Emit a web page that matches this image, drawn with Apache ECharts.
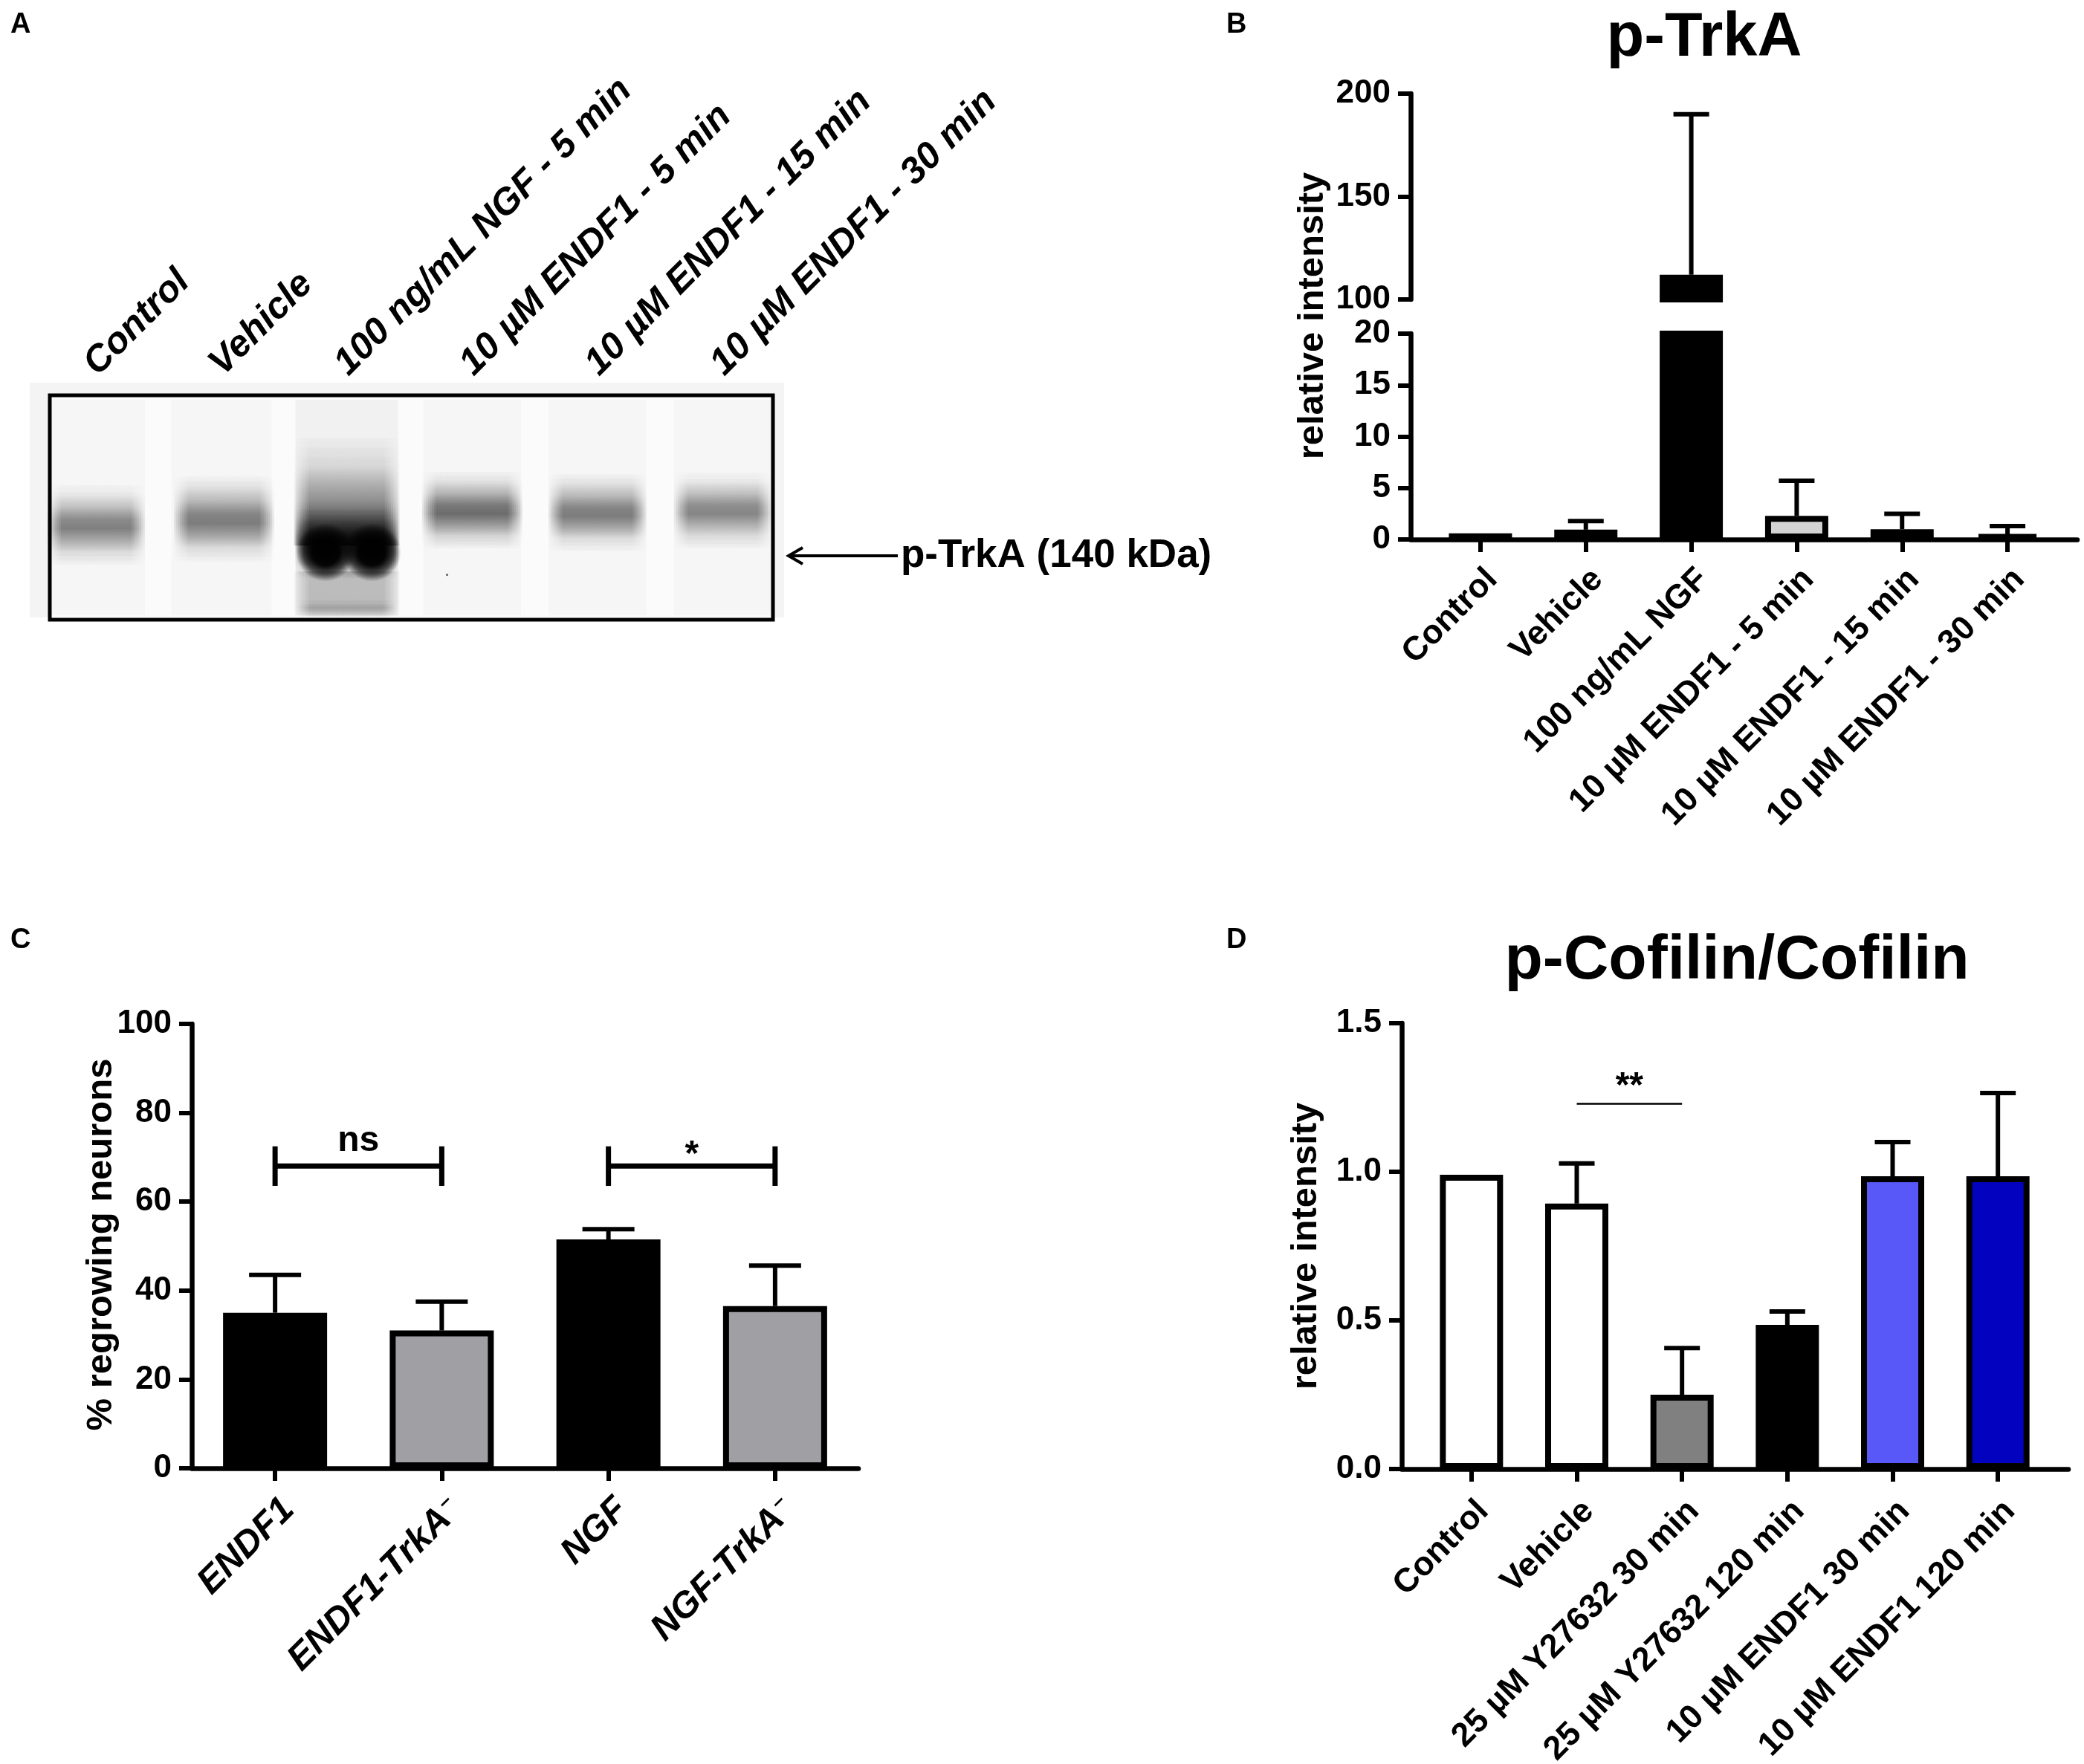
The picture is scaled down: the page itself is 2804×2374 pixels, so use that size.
<!DOCTYPE html>
<html><head><meta charset="utf-8">
<script src="https://cdn.jsdelivr.net/npm/echarts@6/dist/echarts.min.js"></script>
<style>html,body{margin:0;padding:0;background:#fff}#c{width:2804px;height:2374px}</style>
</head><body><div id="c"></div>
<script>
const FONT = '"Liberation Sans", Arial, Helvetica, sans-serif';

// ---------- Panel A : western blot ----------
const blotLanes = ['Control','Vehicle','100 ng/mL NGF - 5 min','10 µM ENDF1 - 5 min','10 µM ENDF1 - 15 min','10 µM ENDF1 - 30 min'];
// lane, x offset (lane units), y centre (0 = top, 1 = bottom), half width, half height, darkness, kind
const bandLane  = [0,1,2,3,4,5, 0,1,3,4,5, 2,2,2,2,2,2, 3];
const bandDx    = [0,0,0,0,0,0, 0,0.02,0,0,0, 0,0,-0.17,0.2,0,0, -0.2];
const bandY     = [0.5,0.5,0.5,0.5,0.5,0.5, 0.575,0.55,0.51,0.52,0.51, 0.42,0.66,0.7,0.7,0.885,0.95, 0.80];
const bandHalfW = [0.39,0.40,0.41,0.39,0.39,0.39, 0.39,0.40,0.40,0.39,0.39, 0.42,0.41,0.26,0.24,0.42,0.39, 0.012];
const bandHalfH = [0.48,0.48,0.48,0.48,0.48,0.48, 0.19,0.2,0.18,0.18,0.18, 0.25,0.16,0.13,0.13,0.10,0.05, 0.012];
const bandDark  = [0.02,0.02,0.04,0.02,0.02,0.02, 0.48,0.5,0.56,0.5,0.46, 0.8,0.82,1,1,0.22,0.15, 0.6];
const bandKind  = ['flat','flat','flat','flat','flat','flat','band','band','band','band','band','smear','band','blob','blob','haze','band','blob'];

// ---------- Panel B : p-TrkA ----------
const bCats   = ['Control','Vehicle','100 ng/mL NGF','10 µM ENDF1 - 5 min','10 µM ENDF1 - 15 min','10 µM ENDF1 - 30 min'];
const bMean   = [0.6, 0.95, 112, 2.3, 1.0, 0.5];
const bUpper  = [null, 1.78, 190, 5.7, 2.5, 1.3];
const bColors = ['#ffffff','#d4d4d4','#000000','#d4d4d4','#a0a0a0','#808080'];
const bLowTicks = [0, 20, 5];      // lower segment: min, max, interval
const bHighTicks = [100, 200, 50]; // upper segment: min, max, interval

// ---------- Panel C : % regrowing neurons ----------
const cCats   = ['ENDF1','ENDF1-TrkA⁻','NGF','NGF-TrkA⁻'];
const cMean   = [35, 31, 51.5, 36.5];
const cUpper  = [43.5, 37.5, 53.8, 45.6];
const cColors = ['#000000','#a0a0a4','#000000','#a0a0a4'];
const cSigFrom = [0, 2], cSigTo = [1, 3], cSigLevel = [68, 68], cSigText = ['ns', '*'], cSigTextLevel = [73.6, 70.5];

// ---------- Panel D : p-Cofilin/Cofilin ----------
const dCats   = ['Control','Vehicle','25 µM Y27632 30 min','25 µM Y27632 120 min','10 µM ENDF1 30 min','10 µM ENDF1 120 min'];
const dMean   = [0.99, 0.893, 0.25, 0.485, 0.985, 0.985];
const dUpper  = [null, 1.028, 0.407, 0.53, 1.1, 1.265];
const dColors = ['#ffffff','#ffffff','#808080','#000000','#5858f8','#0202bf'];
const dSigFrom = [1], dSigTo = [2], dSigLevel = [1.229], dSigText = ['**'], dSigTextLevel = [1.285];

// ---------- helpers ----------
function rgba(a){ return 'rgba(0,0,0,' + Math.max(0, Math.min(1, a)).toFixed(3) + ')'; }
const tickLabel = {color:'#000', fontSize:44, fontWeight:'bold', fontFamily:FONT};
const AXW = 6.5, TKW = 6;
function frameY(grid, min, max, interval, fmt){
  const o = {gridIndex:grid, type:'value', min:min, max:max, interval:interval,
    axisLine:{show:true, onZero:false, lineStyle:{color:'#000', width:AXW}},
    axisTick:{show:true, length:17, lineStyle:{color:'#000', width:TKW}},
    axisLabel:Object.assign({show:true, margin:27}, tickLabel),
    splitLine:{show:false}};
  if (fmt) o.axisLabel.formatter = fmt;
  return o;
}
function hiddenY(grid, min, max){ return {gridIndex:grid, type:'value', min:min, max:max, show:false, splitLine:{show:false}}; }
function frameX(grid){ return {gridIndex:grid, type:'value', min:0, max:1,
  axisLine:{show:true, onZero:false, lineStyle:{color:'#000', width:AXW}},
  axisTick:{show:false}, axisLabel:{show:false}, splitLine:{show:false}}; }
function catX(grid, data, margin, showLine, labelExtra){
  return {gridIndex:grid, type:'category', data:data,
    axisLine:{show:showLine, onZero:false, lineStyle:{color:'#000', width:AXW}},
    axisTick:{show:true, alignWithLabel:true, interval:0, length:17, lineStyle:{color:'#000', width:TKW}},
    axisLabel:Object.assign({interval:0, rotate:45, align:'right', verticalAlign:'top', margin:margin}, tickLabel, {fontSize:45}, labelExtra || {}),
    splitLine:{show:false}};
}
function barSeries(xi, yi, values, colors, width){
  return {type:'bar', xAxisIndex:xi, yAxisIndex:yi, barWidth:width, clip:true,
    data: values.map((v,i)=>({value:v, itemStyle:{color:colors[i], borderColor:'#000', borderWidth:8}})),
    z:2};
}
function errSeries(xi, yi, means, uppers, keep, capHalf){
  const data = [];
  means.forEach((m,i)=>{ if (uppers[i] != null && keep(m, uppers[i])) data.push([i, m, uppers[i]]); });
  return {type:'custom', xAxisIndex:xi, yAxisIndex:yi, z:3, data:data,
    renderItem:function(params, api){
      const p0 = api.coord([api.value(0), api.value(1)]);
      const p1 = api.coord([api.value(0), api.value(2)]);
      return {type:'group', children:[
        {type:'line', shape:{x1:p0[0], y1:p0[1], x2:p1[0], y2:p1[1]}, style:{stroke:'#000', lineWidth:6}},
        {type:'line', shape:{x1:p1[0]-capHalf, y1:p1[1], x2:p1[0]+capHalf, y2:p1[1]}, style:{stroke:'#000', lineWidth:6}}
      ]};
    }};
}
function sigSeries(xi, yi, from, to, level, text, textLevel, lw, tickHalf){
  return {type:'custom', xAxisIndex:xi, yAxisIndex:yi, z:4,
    data: from.map((f,i)=>[f, to[i], level[i], textLevel[i]]),
    renderItem:function(params, api){
      const i = params.dataIndex;
      const a = api.coord([api.value(0), api.value(2)]);
      const b = api.coord([api.value(1), api.value(2)]);
      const t = api.coord([api.value(0), api.value(3)]);
      const ch = [{type:'line', shape:{x1:a[0], y1:a[1], x2:b[0], y2:b[1]}, style:{stroke:'#000', lineWidth:lw}}];
      if (tickHalf > 0) {
        const up = api.coord([api.value(0), api.value(2)+tickHalf])[1], dn = api.coord([api.value(0), api.value(2)-tickHalf])[1];
        ch.push({type:'line', shape:{x1:a[0], y1:up, x2:a[0], y2:dn}, style:{stroke:'#000', lineWidth:lw}});
        ch.push({type:'line', shape:{x1:b[0], y1:up, x2:b[0], y2:dn}, style:{stroke:'#000', lineWidth:lw}});
      }
      ch.push({type:'text', x:(a[0]+b[0])/2, y:t[1], style:{text:text[i], font:'bold 48px ' + FONT, fill:'#000',
        align:'center', textAlign:'center', verticalAlign:'middle', textVerticalAlign:'middle'}});
      return {type:'group', children:ch};
    }};
}
function cLabelFmt(v){
  if (v.indexOf('⁻') >= 0) return '{m|' + v.replace('⁻','') + '}{s|–}';
  return '{m|' + v + '}';
}
const PROFILES = {
  band:  [[0,0],[0.15,0.12],[0.3,0.42],[0.45,0.9],[0.55,1],[0.68,0.6],[0.82,0.2],[1,0]],
  smear: [[0,0],[0.3,0.08],[0.6,0.35],[0.85,0.75],[1,1]],
  haze:  [[0,1],[0.8,1],[1,0.4]]
};
function blotRender(params, api){
  const k = bandKind[params.dataIndex];
  const c = api.coord([api.value(0)+api.value(1), api.value(2)]);
  const s = api.size([api.value(3), api.value(4)]);
  const hw = Math.abs(s[0]), hh = Math.abs(s[1]), a = api.value(5);
  if (k === 'blob') {
    return {type:'ellipse', shape:{cx:c[0], cy:c[1], rx:hw, ry:hh},
      style:{fill:new echarts.graphic.RadialGradient(0.5,0.5,0.5,[{offset:0,color:rgba(a)},{offset:0.45,color:rgba(a*0.97)},{offset:0.75,color:rgba(a*0.6)},{offset:1,color:rgba(0)}])}};
  }
  if (k === 'flat') {
    return {type:'rect', shape:{x:c[0]-hw, y:c[1]-hh, width:2*hw, height:2*hh}, style:{fill:rgba(a)}};
  }
  // soft-edged band: equal-height layers of decreasing width, each with the same vertical profile
  const N = 8, la = 1 - Math.pow(1 - a, 1/N), ch = [];
  const stops = PROFILES[k].map(p => ({offset:p[0], color:rgba(la*p[1])}));
  for (let j = 0; j < N; j++) {
    const wf = 1 - j*0.04;
    ch.push({type:'rect', shape:{x:c[0]-hw*wf, y:c[1]-hh, width:2*hw*wf, height:2*hh},
      style:{fill:new echarts.graphic.LinearGradient(0,0,0,1,stops)}});
  }
  return {type:'group', children:ch};
}

const option = {
  animation:false,
  backgroundColor:'#ffffff',
  textStyle:{fontFamily:FONT},
  grid:[
    {left:67, top:532, width:973, height:302, show:true, borderColor:'#000', borderWidth:5, backgroundColor:'#fbfbfb', z:1, outerBoundsMode:'none'},
    {left:1898, top:126, width:897, height:277, outerBoundsMode:'none'},
    {left:1921, top:126, width:851, height:277, outerBoundsMode:'none'},
    {left:1898, top:449, width:897, height:277, outerBoundsMode:'none'},
    {left:1921, top:449, width:851, height:277, outerBoundsMode:'none'},
    {left:258, top:1378, width:897, height:598, outerBoundsMode:'none'},
    {left:1886, top:1377, width:897, height:600, outerBoundsMode:'none'},
    {left:1909, top:1377, width:850, height:600, outerBoundsMode:'none'}
  ],
  xAxis:[
    {gridIndex:0, type:'value', min:-0.37, max:5.4, show:false, splitLine:{show:false}},
    {gridIndex:1, type:'value', min:0, max:1, show:false, splitLine:{show:false}},
    {gridIndex:2, type:'category', data:bCats, show:false},
    frameX(3),
    catX(4, bCats, 31, false),
    catX(5, cCats, 30, true, {formatter:cLabelFmt, rich:{
      m:{fontSize:49, fontWeight:'bold', fontStyle:'italic', fontFamily:FONT, color:'#000', lineHeight:52},
      s:{fontSize:28, fontWeight:'bold', fontStyle:'italic', fontFamily:FONT, color:'#000', lineHeight:28, verticalAlign:'top', padding:[0,0,0,3]}
    }}),
    frameX(6),
    catX(7, dCats, 34, false)
  ],
  yAxis:[
    {gridIndex:0, type:'value', min:0, max:1, inverse:true, show:false, splitLine:{show:false}},
    frameY(1, bHighTicks[0], bHighTicks[1], bHighTicks[2]),
    hiddenY(2, bHighTicks[0], bHighTicks[1]),
    frameY(3, bLowTicks[0], bLowTicks[1], bLowTicks[2]),
    hiddenY(4, bLowTicks[0], bLowTicks[1]),
    frameY(5, 0, 100, 20),
    frameY(6, 0, 1.5, 0.5, v => v.toFixed(1)),
    hiddenY(7, 0, 1.5)
  ],
  series:[
    {type:'custom', xAxisIndex:0, yAxisIndex:0, z:2,
      data: bandLane.map((l,i)=>[l, bandDx[i], bandY[i], bandHalfW[i], bandHalfH[i], bandDark[i]]),
      renderItem: blotRender},
    {type:'custom', xAxisIndex:0, yAxisIndex:0, z:3,
      data: blotLanes.map((n,i)=>[i, 0]),
      renderItem:function(params, api){
        const p = api.coord([api.value(0), api.value(1)]);
        return {type:'text', x:p[0]+10, y:p[1]-17, rotation:Math.PI/4,
          style:{text:blotLanes[params.dataIndex], font:'italic bold 50px ' + FONT, fill:'#000',
            align:'left', textAlign:'left', verticalAlign:'bottom', textVerticalAlign:'bottom'}};
      }},
    barSeries(2, 2, bMean.map(v => v >= bHighTicks[0] ? v : '-'), bColors, 85),
    barSeries(4, 4, bMean, bColors, 85),
    errSeries(2, 2, bMean, bUpper, (m,u)=> m >= bHighTicks[0], 24),
    errSeries(4, 4, bMean, bUpper, (m,u)=> u <= bLowTicks[1], 24),
    barSeries(5, 5, cMean, cColors, 140),
    errSeries(5, 5, cMean, cUpper, ()=>true, 35),
    sigSeries(5, 5, cSigFrom, cSigTo, cSigLevel, cSigText, cSigTextLevel, 7, 4.45),
    barSeries(7, 7, dMean, dColors, 85),
    errSeries(7, 7, dMean, dUpper, ()=>true, 24),
    sigSeries(7, 7, dSigFrom, dSigTo, dSigLevel, dSigText, dSigTextLevel, 2.5, 0)
  ],
  graphic:{elements:[
    {type:'rect', z:-1, shape:{x:40, y:515, width:1015, height:316}, style:{fill:'#f4f4f4'}},
    {type:'text', x:14, y:15, style:{text:'A', font:'bold 38px ' + FONT, fill:'#000', align:'left', verticalAlign:'top'}},
    {type:'text', x:1650, y:15, style:{text:'B', font:'bold 38px ' + FONT, fill:'#000', align:'left', verticalAlign:'top'}},
    {type:'text', x:14, y:1247, style:{text:'C', font:'bold 38px ' + FONT, fill:'#000', align:'left', verticalAlign:'top'}},
    {type:'text', x:1650, y:1247, style:{text:'D', font:'bold 38px ' + FONT, fill:'#000', align:'left', verticalAlign:'top'}},
    {type:'text', x:2293, y:52, style:{text:'p-TrkA', font:'bold 83px ' + FONT, fill:'#000', align:'center', verticalAlign:'middle'}},
    {type:'text', x:2337, y:1294, style:{text:'p-Cofilin/Cofilin', font:'bold 84px ' + FONT, fill:'#000', align:'center', verticalAlign:'middle'}},
    {type:'text', x:1766, y:425, rotation:Math.PI/2, style:{text:'relative intensity', font:'bold 49px ' + FONT, fill:'#000', align:'center', verticalAlign:'middle'}},
    {type:'text', x:136, y:1675, rotation:Math.PI/2, style:{text:'% regrowing neurons', font:'bold 49px ' + FONT, fill:'#000', align:'center', verticalAlign:'middle'}},
    {type:'text', x:1757, y:1677, rotation:Math.PI/2, style:{text:'relative intensity', font:'bold 49px ' + FONT, fill:'#000', align:'center', verticalAlign:'middle'}},
    {type:'line', shape:{x1:1062, y1:748, x2:1208, y2:748}, style:{stroke:'#000', lineWidth:4}},
    {type:'polyline', shape:{points:[[1080,737],[1061,748],[1080,759]]}, style:{stroke:'#000', lineWidth:4, fill:null}},
    {type:'text', x:1212, y:748, style:{text:'p-TrkA (140 kDa)', font:'bold 53px ' + FONT, fill:'#000', align:'left', verticalAlign:'middle'}}
  ]}
};
const chart = echarts.init(document.getElementById('c'), null, {renderer:'canvas'});
chart.setOption(option);
</script></body></html>
